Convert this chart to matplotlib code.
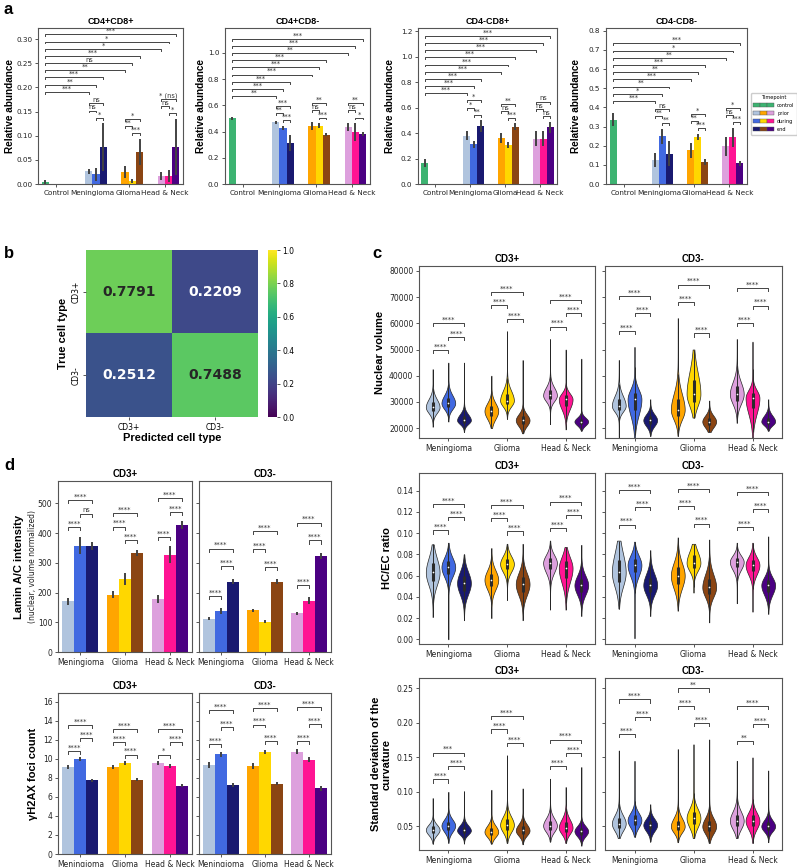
import numpy as np
import matplotlib
matplotlib.use("Agg")
import matplotlib.pyplot as plt
from matplotlib.legend_handler import HandlerTuple
from matplotlib.patches import Patch
from matplotlib.ticker import FormatStrFormatter

W, H = 797, 867

groups = ["Meningioma", "Glioma", "Head & Neck"]
timepoints = ["control", "prior", "during", "end"]
control_color = "mediumseagreen"
group_colors = [["lightsteelblue", "royalblue", "midnightblue"],
                ["orange", "gold", "saddlebrown"],
                ["plum", "deeppink", "indigo"]]

# ---- panel a: relative abundance (mean, CI half width) ----
a_titles = ["CD4+CD8+", "CD4+CD8-", "CD4-CD8+", "CD4-CD8-"]
a_categories = ["Control", "Meningioma", "Glioma", "Head & Neck"]
a_control_mean = [0.005, 0.50, 0.165, 0.335]
a_control_err = [0.004, 0.013, 0.033, 0.033]
a_means = [
    [[0.026, 0.020, 0.076], [0.025, 0.006, 0.067], [0.016, 0.016, 0.077]],
    [[0.47, 0.43, 0.315], [0.445, 0.445, 0.375], [0.435, 0.395, 0.38]],
    [[0.38, 0.31, 0.455], [0.36, 0.305, 0.45], [0.355, 0.355, 0.445]],
    [[0.125, 0.248, 0.158], [0.175, 0.245, 0.115], [0.197, 0.243, 0.107]],
]
a_errs = [
    [[0.006, 0.014, 0.05], [0.013, 0.004, 0.027], [0.008, 0.012, 0.058]],
    [[0.012, 0.015, 0.06], [0.03, 0.02, 0.012], [0.028, 0.07, 0.015]],
    [[0.035, 0.03, 0.045], [0.042, 0.025, 0.025], [0.06, 0.06, 0.045]],
    [[0.038, 0.04, 0.065], [0.04, 0.018, 0.015], [0.05, 0.05, 0.012]],
]
# vs control, bottom to top: Men p/d/e, Glioma p/d/e, H&N p/d/e
a_vs_control = [
    ["***", "**", "***", "**", "ns", "***", "*", "*", "***"],
    ["**", "***", "***", "***", "***", "***", "**", "***", "***"],
    ["***"] * 9,
    ["***", "*", "**", "***", "**", "***", "**", "*", "***"],
]
# within group labels: (prior-during, during-end, prior-end)
a_within = [
    [("ns", "*", "ns"), ("**", "***", "*"), ("ns", "*", "* (ns)")],
    [("**", "***", "***"), ("ns", "***", "**"), ("ns", "*", "**")],
    [("*", "**", "*"), ("ns", "***", "**"), ("ns", "ns", "ns")],
    [("**", "**", "ns"), ("**", "***", "*"), ("ns", "***", "*")],
]

# ---- panel b: confusion matrix ----
cm_labels = ["CD3+", "CD3-"]
cm_values = [[0.7791, 0.2209], [0.2512, 0.7488]]

# ---- panel c: violins (min, q1, median, q3, max), order Men p/d/e, Gli p/d/e, H&N p/d/e ----
nuc_pos = [(20500, 26500, 28000, 30000, 42500), (22500, 28000, 29500, 31500, 45000),
           (18500, 22000, 23000, 24500, 45000), (20000, 24500, 26500, 28500, 40000),
           (23500, 29000, 30500, 33000, 57000), (18000, 21500, 23000, 24500, 46000),
           (21500, 31000, 32500, 34500, 54000), (19500, 28500, 31000, 32500, 50000),
           (19000, 21500, 22500, 23500, 46500)]
nuc_neg = [(16500, 27000, 28500, 31000, 46000), (16000, 27000, 31000, 33500, 51000),
           (17000, 21500, 23000, 24500, 31000), (17000, 24500, 27000, 31000, 62000),
           (24000, 30000, 33000, 38500, 50000), (18500, 21000, 22500, 24000, 30500),
           (22000, 30500, 33000, 36000, 54000), (16500, 27500, 31500, 33500, 53000),
           (19000, 21500, 22500, 24000, 31000)]
hcec_pos = [(0.021, 0.055, 0.063, 0.072, 0.0895), (0.000, 0.062, 0.068, 0.074, 0.091),
            (0.018, 0.046, 0.053, 0.060, 0.080), (0.020, 0.050, 0.056, 0.062, 0.086),
            (0.037, 0.066, 0.071, 0.076, 0.090), (0.018, 0.045, 0.052, 0.059, 0.090),
            (0.028, 0.066, 0.072, 0.077, 0.093), (0.028, 0.058, 0.067, 0.074, 0.087),
            (0.022, 0.045, 0.051, 0.057, 0.089)]
hcec_neg = [(0.029, 0.054, 0.063, 0.075, 0.093), (0.001, 0.063, 0.070, 0.076, 0.092),
            (0.022, 0.045, 0.051, 0.058, 0.084), (0.027, 0.052, 0.060, 0.068, 0.096),
            (0.044, 0.067, 0.072, 0.079, 0.090), (0.016, 0.043, 0.049, 0.057, 0.094),
            (0.034, 0.068, 0.073, 0.077, 0.091), (0.026, 0.064, 0.070, 0.075, 0.091),
            (0.024, 0.045, 0.051, 0.056, 0.097)]
curv_pos = [(0.025, 0.040, 0.045, 0.050, 0.091), (0.026, 0.045, 0.051, 0.057, 0.100),
            (0.025, 0.040, 0.044, 0.049, 0.101), (0.025, 0.037, 0.042, 0.048, 0.103),
            (0.026, 0.045, 0.052, 0.060, 0.153), (0.024, 0.039, 0.044, 0.050, 0.105),
            (0.028, 0.045, 0.051, 0.058, 0.119), (0.026, 0.042, 0.048, 0.056, 0.107),
            (0.022, 0.038, 0.043, 0.048, 0.136)]
curv_neg = [(0.033, 0.047, 0.054, 0.062, 0.160), (0.035, 0.052, 0.059, 0.066, 0.145),
            (0.028, 0.046, 0.052, 0.058, 0.082), (0.027, 0.044, 0.050, 0.058, 0.162),
            (0.033, 0.053, 0.062, 0.071, 0.169), (0.026, 0.043, 0.050, 0.058, 0.176),
            (0.033, 0.050, 0.058, 0.067, 0.145), (0.026, 0.050, 0.058, 0.066, 0.150),
            (0.027, 0.045, 0.050, 0.056, 0.131)]
S4 = "****"
all4 = [(S4, S4, S4)] * 3
nuc_sig = [all4, all4]
hcec_sig = [all4, all4]
curv_sig = [[(S4, S4, "***"), (S4, S4, S4), (S4, S4, S4)],
            [(S4, S4, S4), (S4, S4, "**"), ("**", S4, S4)]]

# ---- panel d: bars (mean, error) ----
lamin_pos = [[171, 358, 357], [193, 246, 334], [177, 327, 427]]
lamin_pos_err = [[12, 30, 14], [12, 20, 10], [13, 28, 12]]
lamin_neg = [[112, 138, 237], [140, 101, 237], [130, 173, 324]]
lamin_neg_err = [[6, 9, 10], [6, 5, 8], [6, 12, 10]]
gh2ax_pos = [[9.1, 9.95, 7.75], [9.15, 9.55, 7.8], [9.55, 9.25, 7.15]]
gh2ax_pos_err = [[0.2, 0.2, 0.15], [0.2, 0.2, 0.15], [0.2, 0.2, 0.15]]
gh2ax_neg = [[9.35, 10.45, 7.25], [9.2, 10.7, 7.4], [10.75, 9.9, 6.9]]
gh2ax_neg_err = [[0.3, 0.25, 0.2], [0.3, 0.25, 0.2], [0.25, 0.25, 0.25]]
lamin_sig = [[(S4, "ns", S4), (S4, S4, S4), (S4, S4, S4)], all4]
gh2ax_sig = [[(S4, S4, S4), (S4, S4, S4), ("*", S4, S4)], all4]

# stacking order of within-group brackets, bottom to top
order_a = [["de", "pd", "pe"]] * 3
order_cd = [["pd", "de", "pe"], ["de", "pd", "pe"], ["pd", "de", "pe"]]
pair_idx = {"pd": (0, 1), "de": (1, 2), "pe": (0, 2)}
key_pos = {"pd": 0, "de": 1, "pe": 2}

LINE_C = "#444444"
ERR_C = "#424242"
BOLD = "Liberation Sans"

fig = plt.figure(figsize=(W / 100, H / 100), dpi=100)


def add_ax(l, t, r, b):
    ax = fig.add_axes([l / W, 1 - b / H, (r - l) / W, (b - t) / H])
    ax._px = (l, t, r, b)
    return ax


def style(ax, fs=5.5):
    for s in ax.spines.values():
        s.set_color("#555555")
        s.set_linewidth(0.8)
    ax.tick_params(labelsize=fs, length=2.5, width=0.7, color="#555555", pad=1.5,
                   labelcolor="#222222")


def set_ylab(ax, text, cx, fs=8):
    l, t, r, b = ax._px
    ax.set_ylabel(text, fontsize=fs, fontweight="bold", family=BOLD, linespacing=1.1)
    ax.yaxis.label.set_va("center")
    ax.yaxis.set_label_coords((cx - l) / (r - l), 0.5)


def bracket(ax, x1, x2, y, h, label, fs=4.8):
    ax.plot([x1, x1, x2, x2], [y - h, y, y, y - h], color=LINE_C, lw=0.7, clip_on=False)
    ax.text((x1 + x2) / 2, y + h * 0.15, label, ha="center", va="bottom", fontsize=fs,
            color="#333333")


def stack_brackets(ax, xs, tops, order, labels, pad, step, h):
    placed = []
    for key in order:
        i, j = pair_idx[key]
        y = max(tops[i:j + 1]) + pad
        for pi, pj, py in placed:
            if pi <= j and pj >= i:
                y = max(y, py + step)
        bracket(ax, xs[i], xs[j], y, h, labels[key_pos[key]])
        placed.append((i, j, y))
    return max(p[2] for p in placed)


# ================= panel a =================
a_rects = [(38, 28, 183, 184), (225, 28, 370, 184), (418, 28, 557, 184), (606, 28, 747, 184)]
a_top = [0.323, 1.19, 1.224, 0.814]
a_step = [0.05, 0.2, 0.2, 0.1]
a_fmt = ["%.2f", "%.1f", "%.1f", "%.1f"]
a_lab_x = [10, 201, 390, 576]
dodge4 = [-0.3, -0.1, 0.1, 0.3]
for k in range(4):
    ax = add_ax(*a_rects[k])
    style(ax, 5.2)
    R = a_top[k]
    ax.bar(dodge4[0], a_control_mean[k], 0.2, color=control_color)
    ax.vlines(dodge4[0], a_control_mean[k] - a_control_err[k], a_control_mean[k] + a_control_err[k],
              color=ERR_C, lw=1.4)
    targets = []
    level = 0
    for g in range(3):
        xs = [g + 1 + d for d in dodge4[1:]]
        m = np.array(a_means[k][g])
        e = np.array(a_errs[k][g])
        ax.bar(xs, m, 0.2, color=group_colors[g])
        ax.vlines(xs, m - e, m + e, color=ERR_C, lw=1.4)
        lv = stack_brackets(ax, xs, list(m + e), order_a[g], a_within[k][g],
                            0.035 * R, 0.046 * R, 0.012 * R)
        level = max(level, lv)
        targets += xs
    for n, x2 in enumerate(targets):
        y = level + 0.046 * R * (n + 1)
        bracket(ax, dodge4[0], x2, y, 0.012 * R, a_vs_control[k][n])
    ax.set_xlim(-0.5, 3.5)
    ax.set_ylim(0, R)
    ax.set_yticks(np.arange(0, R, a_step[k]))
    ax.yaxis.set_major_formatter(FormatStrFormatter(a_fmt[k]))
    ax.set_xticks(range(4))
    ax.set_xticklabels(a_categories)
    ax.set_title(a_titles[k], fontsize=6.5, fontweight="bold", family=BOLD, pad=3)
    set_ylab(ax, "Relative abundance", a_lab_x[k], 7.2)

handles = [tuple(Patch(facecolor=control_color, edgecolor="#555555", lw=0.3) for _ in range(3))]
for t in range(3):
    handles.append(tuple(Patch(facecolor=group_colors[g][t], edgecolor="#555555", lw=0.3)
                         for g in range(3)))
fig.legend(handles, timepoints, handler_map={tuple: HandlerTuple(ndivide=None, pad=0)},
           title="Timepoint", loc="upper left", bbox_to_anchor=(748 / W, 1 - 90 / H),
           fontsize=3.6, title_fontsize=3.6, handlelength=4.2, handleheight=0.9,
           labelspacing=0.6, borderpad=0.5, handletextpad=0.6, framealpha=1,
           edgecolor="#cccccc", fancybox=True)

# ================= panel b =================
axb = add_ax(86, 250, 258, 417)
cax = add_ax(268, 250, 277, 417)
im = axb.imshow(cm_values, cmap="viridis", vmin=0, vmax=1, aspect="auto")
for i in range(2):
    for j in range(2):
        v = cm_values[i][j]
        axb.text(j, i, f"{v:.4f}", ha="center", va="center", fontsize=10, fontweight="bold",
                 color="#262626" if v > 0.5 else "white")
axb.set_xticks([0, 1])
axb.set_xticklabels(cm_labels)
axb.set_yticks([0, 1])
axb.set_yticklabels(cm_labels, rotation=90, va="center")
for s in axb.spines.values():
    s.set_visible(False)
axb.tick_params(labelsize=5.5, length=2.5, width=0.7, color="#555555", pad=1.5)
axb.set_xlabel("Predicted cell type", fontsize=8, fontweight="bold", family=BOLD)
axb.xaxis.label.set_va("center")
axb.xaxis.set_label_coords(0.5, -(438 - 417) / 167)
set_ylab(axb, "True cell type", 63, 8)
cb = fig.colorbar(im, cax=cax)
cb.outline.set_visible(False)
cb.set_ticks(np.arange(0, 1.01, 0.2))
cax.yaxis.set_major_formatter(FormatStrFormatter("%.1f"))
cax.tick_params(labelsize=5.5, length=2.5, width=0.7, color="#555555", pad=1.5)

# ================= panel c =================
w3 = 0.8 / 3
offs3 = [-w3, 0, w3]


def violin_shape(st, n=240):
    lo, q1, med, q3, hi = st
    y = np.linspace(lo, hi, n)
    s = np.where(y < med, (med - q1) / 0.6745, (q3 - med) / 0.6745)
    d = np.exp(-0.5 * ((y - med) / s) ** 2) + 0.03 * np.exp(-np.abs(y - med) / (4 * s))
    return y, d / d.max()


def draw_violins(ax, stats, sig, neg):
    R = ax.get_ylim()[1] - ax.get_ylim()[0]
    f = 1.3 if neg else 1.0
    for g in range(3):
        xs = [g + o for o in offs3]
        tops = []
        for t in range(3):
            st = stats[g * 3 + t]
            y, d = violin_shape(st)
            hw = d * w3 / 2 * 0.88
            x = xs[t]
            ax.fill_betweenx(y, x - hw, x + hw, facecolor=group_colors[g][t], edgecolor="#262626",
                             lw=0.5, zorder=2)
            lo, q1, med, q3, hi = st
            iqr = q3 - q1
            ax.vlines(x, max(lo, q1 - 1.5 * iqr), min(hi, q3 + 1.5 * iqr), color="#2b2b2b",
                      lw=0.7, zorder=3)
            ax.vlines(x, q1, q3, color="#2b2b2b", lw=2.2, zorder=3)
            ax.scatter([x], [med], s=1.5, color="white", zorder=4, lw=0)
            tops.append(hi)
        stack_brackets(ax, xs, tops, order_cd[g], sig[g], 0.072 * R * f, 0.078 * R * f, 0.018 * R)


def draw_bars(ax, means, errs, sig, neg, padf):
    R = ax.get_ylim()[1] - ax.get_ylim()[0]
    f = 1.3 if neg else 1.0
    for g in range(3):
        xs = [g + o for o in offs3]
        m = np.array(means[g])
        e = np.array(errs[g])
        ax.bar(xs, m, w3, color=group_colors[g])
        ax.vlines(xs, m - e, m + e, color=ERR_C, lw=1.4)
        stack_brackets(ax, xs, list(m + e), order_cd[g], sig[g], padf * R * f, 0.08 * R * f,
                       0.018 * R)


def setup_pair(rects, ylim, ticks, fmt, title_pad=3):
    axs = []
    for c, rect in enumerate(rects):
        ax = add_ax(*rect)
        style(ax, 5.5)
        ax.set_xlim(-0.5, 2.5)
        ax.set_ylim(*ylim)
        ax.set_yticks(ticks)
        ax.yaxis.set_major_formatter(FormatStrFormatter(fmt))
        ax.set_xticks(range(3))
        ax.set_xticklabels(groups)
        ax.set_title(cm_labels[c], fontsize=7, fontweight="bold", family=BOLD, pad=title_pad)
        if c == 1:
            ax.tick_params(labelleft=False)
        axs.append(ax)
    return axs


c_cols = [(419, 595), (605, 782)]
ax1, ax2 = setup_pair([(c_cols[0][0], 266, c_cols[0][1], 438), (c_cols[1][0], 266, c_cols[1][1], 438)],
                      (16200, 81900), np.arange(20000, 80001, 10000), "%d")
draw_violins(ax1, nuc_pos, nuc_sig[0], False)
draw_violins(ax2, nuc_neg, nuc_sig[1], True)
set_ylab(ax1, "Nuclear volume", 380)

ax1, ax2 = setup_pair([(c_cols[0][0], 473, c_cols[0][1], 644), (c_cols[1][0], 473, c_cols[1][1], 644)],
                      (-0.0044, 0.1567), np.arange(0, 0.141, 0.02), "%.2f")
draw_violins(ax1, hcec_pos, hcec_sig[0], False)
draw_violins(ax2, hcec_neg, hcec_sig[1], True)
set_ylab(ax1, "HC/EC ratio", 387)

ax1, ax2 = setup_pair([(c_cols[0][0], 678, c_cols[0][1], 850), (c_cols[1][0], 678, c_cols[1][1], 850)],
                      (0.0157, 0.265), np.arange(0.05, 0.251, 0.05), "%.2f")
draw_violins(ax1, curv_pos, curv_sig[0], False)
draw_violins(ax2, curv_neg, curv_sig[1], True)
set_ylab(ax1, "Standard deviation of the\ncurvature", 381)

# ================= panel d =================
d_cols = [(58, 192), (199, 331)]
ax1, ax2 = setup_pair([(d_cols[0][0], 481, d_cols[0][1], 652), (d_cols[1][0], 481, d_cols[1][1], 652)],
                      (0, 575), np.arange(0, 501, 100), "%d")
draw_bars(ax1, lamin_pos, lamin_pos_err, lamin_sig[0], False, 0.055)
draw_bars(ax2, lamin_neg, lamin_neg_err, lamin_sig[1], True, 0.055)
set_ylab(ax1, "Lamin A/C intensity", 19)
ax1.text((33 - 58) / 134, 0.5, "(nuclear, volume normalized)", transform=ax1.transAxes,
         rotation=90, ha="center", va="center", fontsize=5.5, color="#222222")

ax1, ax2 = setup_pair([(d_cols[0][0], 693, d_cols[0][1], 854), (d_cols[1][0], 693, d_cols[1][1], 854)],
                      (0, 16.9), np.arange(0, 16.1, 2), "%d")
draw_bars(ax1, gh2ax_pos, gh2ax_pos_err, gh2ax_sig[0], False, 0.04)
draw_bars(ax2, gh2ax_neg, gh2ax_neg_err, gh2ax_sig[1], True, 0.04)
set_ylab(ax1, "γH2AX foci count", 33)

# panel letters
for letter, x, y in [("a", 4, 14), ("b", 4, 258), ("c", 372, 258), ("d", 4, 470)]:
    fig.text(x / W, 1 - y / H, letter, fontsize=12, fontweight="bold", family=BOLD)

fig.savefig("out.png", dpi=100)
